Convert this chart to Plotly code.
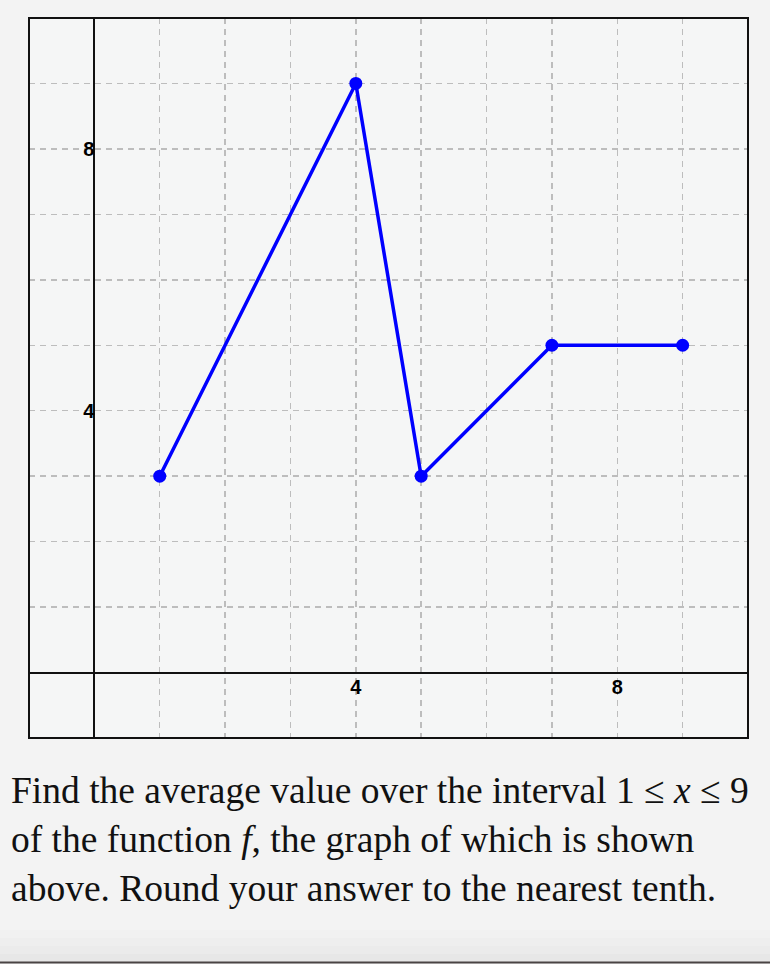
import plotly.graph_objects as go

# Data
x_vals = [1, 4, 5, 7, 9]
y_vals = [3, 9, 3, 5, 5]
tick_vals = [4, 8]
tick_text = ["4", "8"]
question_lines = [
    "Find the average value over the interval 1 ≤ <i>x</i> ≤ 9",
    "of the function <i>f</i>, the graph of which is shown",
    "above. Round your answer to the nearest tenth.",
]

W, H = 770, 964
ML, MR, MT, MB = 29, 22, 18, 226
PH = H - MT - MB  # plot height in px
PW = W - ML - MR


def py(pixel_y):
    """Convert a pixel row of the page to paper y coordinate."""
    return (H - MB - pixel_y) / PH


fig = go.Figure()
fig.add_trace(go.Scatter(
    x=x_vals, y=y_vals, mode="lines+markers",
    line=dict(color="#0000ff", width=3.5),
    marker=dict(color="#0000ff", size=13),
    hoverinfo="skip", showlegend=False,
))

grid_common = dict(
    showgrid=True, gridcolor="#bdbdbd", gridwidth=1.5, griddash="6px,5px",
    zeroline=True, zerolinecolor="#111111", zerolinewidth=2,
    showline=False, ticks="", tickvals=tick_vals, ticktext=tick_text,
    tickfont=dict(family="Liberation Sans, Arial", size=20, color="#000000", weight="bold"),
    minor=dict(dtick=1, showgrid=True, gridcolor="#bdbdbd", gridwidth=1.5, griddash="6px,5px", ticks=""),
    anchor="free", position=1 / 11, fixedrange=True,
)

fig.update_xaxes(range=[-1, 10], **grid_common)
fig.update_yaxes(range=[-1, 10], **grid_common)

shapes = [
    dict(type="rect", xref="paper", yref="paper", x0=0, x1=1, y0=0, y1=1,
         line=dict(color="#111111", width=2), layer="above"),
]
# subtle bottom shading + separator line
shade_cols = ["#f1f1f1", "#eeeeee", "#ebebeb", "#e7e7e7"]
for i, c in enumerate(shade_cols):
    shapes.append(dict(type="rect", xref="paper", yref="paper", x0=-0.1, x1=1.1,
                       y0=py(930 + 8 * (i + 1)), y1=py(930 + 8 * i),
                       fillcolor=c, line=dict(width=0), layer="below"))
shapes.append(dict(type="line", xref="paper", yref="paper", x0=-0.1, x1=1.1,
                   y0=py(962.5), y1=py(962.5), line=dict(color="#4a4444", width=2)))

annotations = []
for i, t in enumerate(question_lines):
    annotations.append(dict(
        text=t, xref="paper", yref="paper", x=(9 - ML) / PW, y=py(790 + 49 * i),
        xanchor="left", yanchor="middle", showarrow=False, align="left",
        font=dict(family="Liberation Serif, Times New Roman, serif", size=37.5, color="#111111"),
    ))

fig.update_layout(
    width=W, height=H,
    margin=dict(l=ML, r=MR, t=MT, b=MB, pad=0),
    paper_bgcolor="#f3f3f3", plot_bgcolor="#f5f6f6",
    shapes=shapes, annotations=annotations, showlegend=False,
)

fig.write_html(
    "out.html",
    config={"displayModeBar": False, "staticPlot": True},
    post_script="document.body.style.margin='0';document.body.style.background='#f3f3f3';",
)
